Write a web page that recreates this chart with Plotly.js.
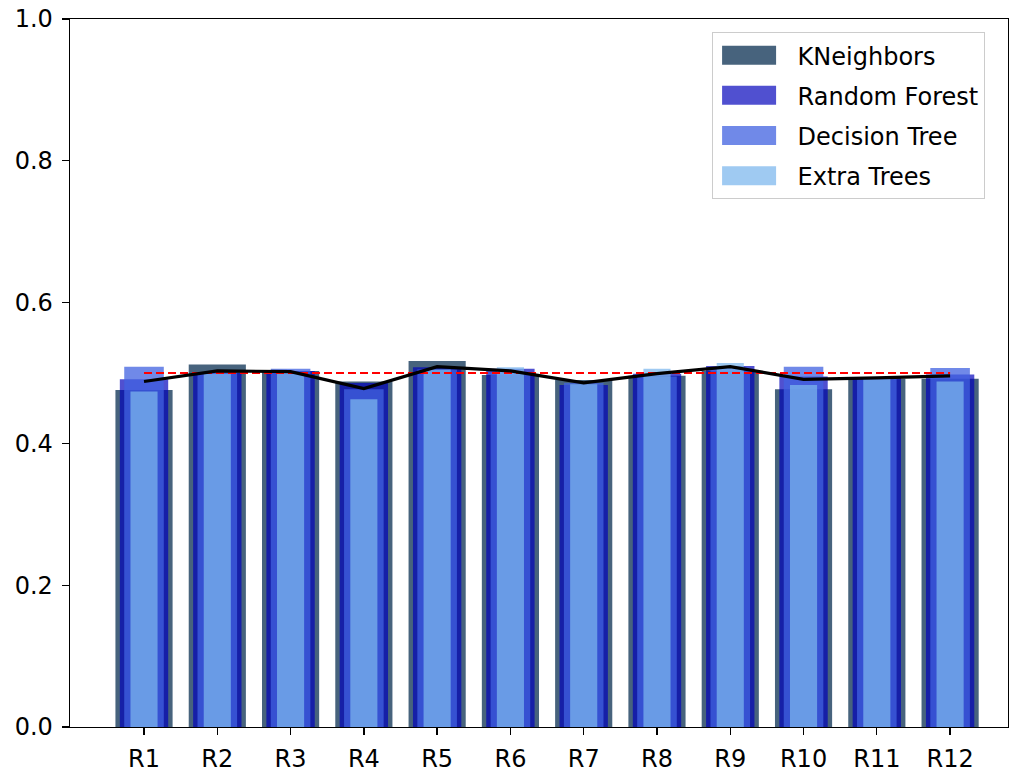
<!DOCTYPE html>
<html>
<head>
<meta charset="utf-8">
<script src="https://cdn.plot.ly/plotly-3.0.1.min.js"></script>
<style>html,body{margin:0;padding:0;background:#fff;}#chart{width:1014px;height:774px;}</style>
</head>
<body>
<div id="chart"></div>
<script>
const categories = ["R1","R2","R3","R4","R5","R6","R7","R8","R9","R10","R11","R12"];
const kneighbors   = [0.476,0.512,0.503,0.488,0.517,0.497,0.490,0.496,0.503,0.477,0.492,0.492];
const randomForest = [0.491,0.500,0.503,0.486,0.508,0.506,0.483,0.499,0.510,0.495,0.493,0.498];
const decisionTree = [0.509,0.500,0.506,0.477,0.505,0.500,0.486,0.495,0.508,0.509,0.494,0.507];
const extraTrees   = [0.474,0.499,0.500,0.463,0.505,0.508,0.484,0.506,0.514,0.483,0.493,0.488];
const meanLine     = [0.488,0.503,0.502,0.478,0.509,0.503,0.486,0.499,0.509,0.491,0.493,0.496];
const refLine      = [0.5,0.5,0.5,0.5,0.5,0.5,0.5,0.5,0.5,0.5,0.5,0.5];

const FONT = {family: "DejaVu Sans", size: 24, color: "#000"};

function bar(name, y, color, width, group) {
  return {type: "bar", name: name, x: categories, y: y, width: width,
          marker: {color: color, line: {width: 0}}, legendgroup: group, hoverinfo: "skip"};
}

const traces = [
  bar("KNeighbors", kneighbors, "rgb(71,99,125)", 0.78, "a"),
  bar("Random Forest", randomForest, "rgba(0,0,187,0.686)", 0.66, "b"),
  bar("Decision Tree", decisionTree, "rgba(65,98,225,0.753)", 0.54, "c"),
  bar("Extra Trees", extraTrees, "rgba(124,183,237,0.735)", 0.37, "d"),
  {type: "scatter", mode: "lines", x: categories, y: refLine, showlegend: false,
   line: {color: "red", width: 1.8, dash: "8px,4px"}, hoverinfo: "skip"},
  {type: "scatter", mode: "lines", x: categories, y: meanLine, showlegend: false,
   line: {color: "black", width: 3.2}, hoverinfo: "skip"}
];

const layout = {
  width: 1014, height: 774,
  margin: {l: 70, r: 6, t: 19, b: 47, pad: 0},
  paper_bgcolor: "#fff", plot_bgcolor: "#fff",
  barmode: "overlay",
  font: FONT,
  showlegend: true,
  legend: {x: 0.684, y: 0.9816, xanchor: "left", yanchor: "top",
           bgcolor: "rgba(255,255,255,0.8)", bordercolor: "#cccccc", borderwidth: 1,
           font: FONT, itemwidth: 75, tracegroupgap: 6, traceorder: "grouped"},
  xaxis: {type: "category", range: [-1.01, 11.79], showgrid: false, zeroline: false,
          showline: true, linecolor: "#000", linewidth: 1.3, mirror: true,
          ticks: "outside", ticklen: 7, tickwidth: 1.3, tickcolor: "#000",
          ticklabelstandoff: 3, tickfont: FONT, fixedrange: true},
  yaxis: {range: [0, 1], tickvals: [0,0.2,0.4,0.6,0.8,1.0], tickformat: ".1f",
          showgrid: false, zeroline: false, showline: true, linecolor: "#000", linewidth: 1.3,
          mirror: true, ticks: "outside", ticklen: 7, tickwidth: 1.3, tickcolor: "#000",
          ticklabelstandoff: 4, tickfont: FONT, fixedrange: true}
};

Plotly.newPlot("chart", traces, layout, {staticPlot: true}).then(function () {
  document.querySelectorAll(".legend .legendpoints path").forEach(function (p) {
    p.setAttribute("d", "M-33,9.5H21V-9.5H-33Z");
  });
});
</script>
</body>
</html>
